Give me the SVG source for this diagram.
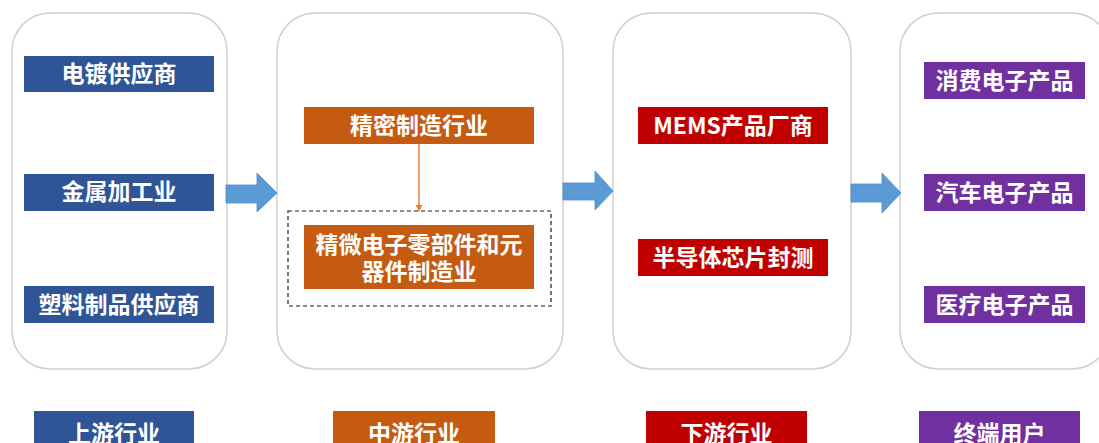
<svg xmlns="http://www.w3.org/2000/svg" width="1099" height="443" viewBox="0 0 1099 443">
<defs>
<style>
.panel{fill:#fff;stroke:#cfcfcf;stroke-width:1.5}
.t{font-family:"Noto Sans CJK SC","Liberation Sans",sans-serif;font-weight:bold;font-size:23px;fill:#fff;text-anchor:middle}
.blue{fill:#2F5597}
.orange{fill:#C55A11}
.red{fill:#C00000}
.purple{fill:#7030A0}
.barrow{fill:#5B9BD5;stroke:#4F8BC4;stroke-width:0.8}
</style>
<marker id="ah" viewBox="0 0 10 10" refX="9" refY="5" markerWidth="7" markerHeight="7" orient="auto" markerUnits="userSpaceOnUse">
<path d="M0,0 L10,5 L0,10 z" fill="#ED7D31"/>
</marker>
</defs>
<rect width="1099" height="443" fill="#fff"/>
<g id="panel-upstream">
<rect class="panel" x="12" y="13" width="215" height="356" rx="38" ry="38"/>
<rect class="blue" x="24" y="56" width="190" height="36"/>
<text class="t" x="119" y="82">电镀供应商</text>
<rect class="blue" x="24" y="174" width="190" height="37"/>
<text class="t" x="119" y="200">金属加工业</text>
<rect class="blue" x="24" y="286" width="190" height="37"/>
<text class="t" x="119" y="313">塑料制品供应商</text>
</g>
<g id="panel-midstream">
<rect class="panel" x="277" y="13" width="286" height="356" rx="38" ry="38"/>
<rect id="dashed-group" x="288" y="211" width="263" height="95" fill="none" stroke="#1a1a1a" stroke-width="1.2" stroke-dasharray="4,3"/>
<rect class="orange" x="304" y="107" width="230" height="37"/>
<text class="t" x="419" y="134">精密制造行业</text>
<rect class="orange" x="304" y="225" width="230" height="64"/>
<text class="t" x="419" y="253">精微电子零部件和元</text>
<text class="t" x="419" y="280">器件制造业</text>
</g>
<g id="panel-downstream">
<rect class="panel" x="613" y="13" width="238" height="356" rx="38" ry="38"/>
<rect class="red" x="638" y="107" width="190" height="37"/>
<text class="t" x="733" y="134">MEMS产品厂商</text>
<rect class="red" x="638" y="239" width="190" height="37"/>
<text class="t" x="733" y="266">半导体芯片封测</text>
</g>
<g id="panel-end">
<rect class="panel" x="900" y="13" width="210" height="356" rx="38" ry="38"/>
<rect class="purple" x="924" y="62" width="161" height="37"/>
<text class="t" x="1004.5" y="89">消费电子产品</text>
<rect class="purple" x="924" y="174" width="161" height="37"/>
<text class="t" x="1004.5" y="201">汽车电子产品</text>
<rect class="purple" x="924" y="286" width="161" height="37"/>
<text class="t" x="1004.5" y="313">医疗电子产品</text>
</g>
<g id="labels">
<g id="label-up"><rect class="blue" x="34" y="411" width="160" height="40"/><text class="t" x="114" y="442">上游行业</text></g>
<g id="label-mid"><rect class="orange" x="333" y="411" width="162" height="40"/><text class="t" x="414" y="442">中游行业</text></g>
<g id="label-down"><rect class="red" x="646" y="411" width="161" height="40"/><text class="t" x="726.5" y="442">下游行业</text></g>
<g id="label-end"><rect class="purple" x="919" y="411" width="161" height="40"/><text class="t" x="999.5" y="442">终端用户</text></g>
</g>
<g id="connectors">
<path class="barrow" d="M226,185 L257,185 L257,173 L277,193 L257,212 L257,203 L226,203 z"/>
<path class="barrow" d="M563,183 L595,183 L595,171 L613,191 L595,210 L595,200 L563,200 z"/>
<path class="barrow" d="M851,184 L882,184 L882,173 L901,193 L882,213 L882,202 L851,202 z"/>
<line x1="419" y1="144" x2="419" y2="211" stroke="#ED7D31" stroke-width="1.5" marker-end="url(#ah)"/>
</g>
</svg>
